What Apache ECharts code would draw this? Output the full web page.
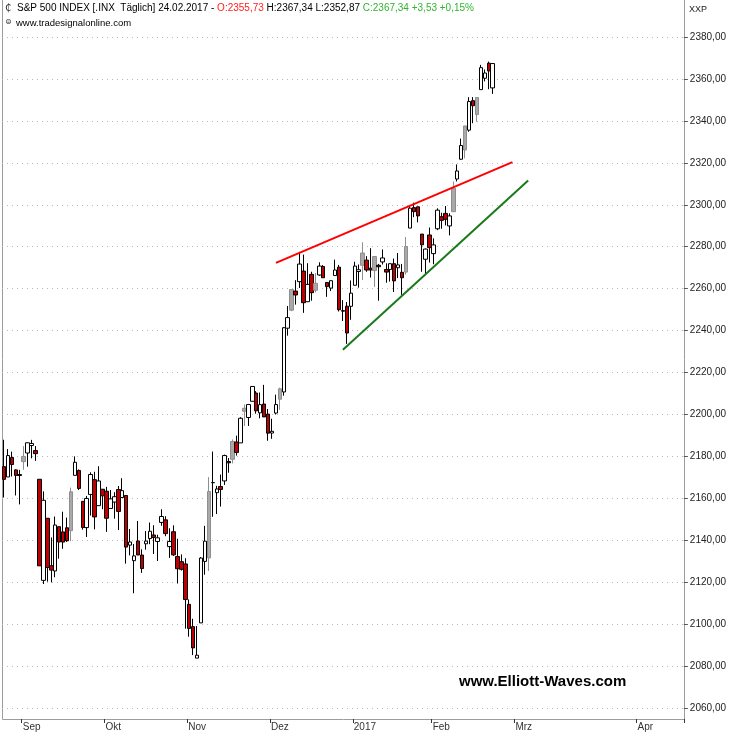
<!DOCTYPE html>
<html><head><meta charset="utf-8">
<script src="https://cdn.jsdelivr.net/npm/echarts@6/dist/echarts.min.js"></script>
<style>html,body{margin:0;padding:0;background:#fff}#c{width:729px;height:735px}</style>
</head><body><div id="c"></div>
<script>
// ---- data ----
const dates = ['2016-08-26','2016-08-29','2016-08-30','2016-08-31','2016-09-01','2016-09-02','2016-09-06','2016-09-07','2016-09-08','2016-09-09',
'2016-09-12','2016-09-13','2016-09-14','2016-09-15','2016-09-16','2016-09-19','2016-09-20','2016-09-21','2016-09-22','2016-09-23',
'2016-09-26','2016-09-27','2016-09-28','2016-09-29','2016-09-30','2016-10-03','2016-10-04','2016-10-05','2016-10-06','2016-10-07',
'2016-10-10','2016-10-11','2016-10-12','2016-10-13','2016-10-14','2016-10-17','2016-10-18','2016-10-19','2016-10-20','2016-10-21',
'2016-10-24','2016-10-25','2016-10-26','2016-10-27','2016-10-28','2016-10-31','2016-11-01','2016-11-02','2016-11-03','2016-11-04',
'2016-11-07','2016-11-08','2016-11-09','2016-11-10','2016-11-11','2016-11-14','2016-11-15','2016-11-16','2016-11-17','2016-11-18',
'2016-11-21','2016-11-22','2016-11-23','2016-11-25','2016-11-28','2016-11-29','2016-11-30','2016-12-01','2016-12-02','2016-12-05',
'2016-12-06','2016-12-07','2016-12-08','2016-12-09','2016-12-12','2016-12-13','2016-12-14','2016-12-15','2016-12-16','2016-12-19',
'2016-12-20','2016-12-21','2016-12-22','2016-12-23','2016-12-27','2016-12-28','2016-12-29','2016-12-30','2017-01-03','2017-01-04',
'2017-01-05','2017-01-06','2017-01-09','2017-01-10','2017-01-11','2017-01-12','2017-01-13','2017-01-17','2017-01-18','2017-01-19',
'2017-01-20','2017-01-23','2017-01-24','2017-01-25','2017-01-26','2017-01-27','2017-01-30','2017-01-31','2017-02-01','2017-02-02',
'2017-02-03','2017-02-06','2017-02-07','2017-02-08','2017-02-09','2017-02-10','2017-02-13','2017-02-14','2017-02-15','2017-02-16',
'2017-02-17','2017-02-21','2017-02-22','2017-02-23','2017-02-24'];

const opens = [2175.10,2170.19,2179.45,2173.56,2171.33,2177.49,2181.61,2185.17,2182.76,2169.08,
2120.86,2150.47,2127.86,2125.36,2146.48,2143.99,2145.94,2144.58,2170.94,2173.29,
2158.54,2146.04,2161.85,2168.90,2156.51,2164.33,2163.37,2155.15,2158.22,2164.19,
2160.39,2161.35,2137.67,2130.26,2139.68,2132.95,2138.31,2140.81,2142.51,2139.43,
2148.50,2149.72,2136.97,2144.06,2132.23,2129.78,2128.68,2109.43,2098.80,2083.79,
2100.59,2129.92,2131.56,2167.49,2162.71,2165.64,2168.29,2177.53,2178.61,2186.85,
2186.43,2201.56,2198.55,2206.27,2210.21,2200.76,2204.97,2200.17,2191.12,2200.65,
2207.26,2210.72,2241.13,2249.73,2258.83,2263.32,2268.35,2253.77,2266.81,2259.24,
2266.50,2270.54,2262.93,2260.25,2266.23,2270.23,2249.50,2251.61,2251.57,2261.60,
2268.18,2271.14,2273.59,2269.72,2268.60,2271.14,2272.74,2269.14,2269.14,2271.90,
2269.96,2267.78,2267.88,2288.88,2298.63,2299.02,2286.01,2274.02,2285.59,2276.69,
2288.54,2294.28,2295.87,2289.89,2296.70,2312.27,2321.72,2326.12,2335.58,2349.64,
2343.01,2354.91,2360.31,2367.50,2355.73];

const highs = [2187.94,2183.48,2182.27,2173.79,2173.56,2184.87,2186.57,2187.87,2184.94,2169.08,
2163.30,2150.47,2141.33,2151.31,2146.48,2153.61,2150.80,2165.11,2179.99,2173.75,
2158.54,2161.13,2172.40,2172.67,2175.30,2164.41,2165.46,2163.95,2162.93,2165.86,
2169.60,2161.56,2145.36,2138.19,2149.19,2135.70,2144.38,2148.44,2147.18,2142.63,
2154.79,2151.44,2145.73,2147.13,2140.72,2133.25,2131.45,2111.76,2102.56,2099.07,
2132.00,2146.87,2170.10,2182.30,2165.92,2171.36,2180.84,2179.22,2188.06,2189.89,
2198.70,2204.80,2204.72,2213.35,2211.14,2210.46,2214.10,2202.60,2197.95,2209.42,
2212.78,2241.63,2251.69,2259.80,2264.03,2277.53,2276.20,2272.12,2268.05,2267.47,
2272.56,2271.23,2263.18,2263.79,2273.82,2271.31,2254.51,2253.58,2263.88,2272.82,
2271.50,2282.10,2275.49,2279.27,2275.32,2271.78,2278.68,2272.08,2272.01,2274.33,
2276.96,2271.78,2284.63,2299.55,2300.99,2299.02,2286.01,2279.09,2289.14,2283.97,
2298.31,2296.18,2299.40,2295.91,2311.08,2319.23,2331.58,2337.58,2351.30,2351.31,
2351.16,2366.71,2364.51,2368.26,2367.34];

const lows = [2160.39,2170.19,2170.41,2161.35,2157.09,2173.59,2175.10,2179.07,2177.85,2127.81,
2119.12,2120.27,2119.90,2122.36,2131.20,2135.91,2139.17,2139.57,2170.94,2163.97,
2145.04,2141.55,2151.79,2145.20,2156.51,2154.77,2144.01,2155.15,2150.28,2144.85,
2160.39,2128.84,2132.77,2114.72,2132.98,2124.43,2135.49,2138.15,2133.44,2130.09,
2146.91,2141.93,2131.59,2132.52,2119.36,2125.53,2097.85,2094.00,2085.23,2083.79,
2100.59,2123.56,2125.35,2151.17,2152.49,2156.08,2166.38,2172.20,2176.65,2180.38,
2186.43,2194.51,2194.51,2206.27,2200.36,2198.15,2198.81,2187.44,2188.37,2199.97,
2202.21,2208.93,2237.57,2249.23,2252.37,2260.32,2248.44,2253.77,2254.24,2258.21,
2266.14,2265.15,2256.08,2258.84,2266.15,2249.11,2244.56,2233.62,2245.13,2261.60,
2260.45,2264.06,2268.04,2265.27,2260.83,2254.25,2271.51,2262.81,2263.35,2258.41,
2265.01,2257.02,2266.68,2288.88,2294.08,2291.62,2268.04,2267.21,2272.44,2271.65,
2287.88,2288.57,2290.16,2285.38,2296.61,2311.10,2321.42,2322.17,2334.81,2338.87,
2339.58,2354.91,2358.84,2355.09,2352.87];

const closes = [2169.04,2180.38,2176.12,2170.95,2170.86,2179.98,2186.48,2186.16,2181.30,2127.81,
2159.04,2127.02,2125.77,2147.26,2139.16,2139.12,2139.76,2163.12,2177.18,2164.69,
2146.10,2159.93,2171.37,2151.13,2168.27,2161.20,2150.49,2159.73,2160.77,2153.74,
2163.66,2136.73,2139.18,2132.55,2132.98,2126.50,2139.60,2144.29,2141.34,2141.16,
2151.33,2143.16,2139.43,2133.04,2126.41,2126.15,2111.72,2097.94,2088.66,2085.18,
2131.52,2139.56,2163.26,2167.48,2164.45,2164.20,2180.39,2176.94,2187.12,2181.90,
2198.18,2202.94,2204.72,2213.35,2201.72,2204.66,2198.81,2191.08,2191.95,2204.71,
2212.23,2241.35,2246.19,2259.53,2256.96,2271.72,2253.28,2262.03,2258.07,2262.53,
2270.76,2265.18,2260.96,2263.79,2268.88,2249.92,2249.26,2238.83,2257.83,2270.75,
2269.00,2276.98,2268.90,2268.90,2275.32,2270.44,2274.64,2267.89,2271.89,2263.69,
2271.31,2265.20,2280.07,2298.37,2296.68,2294.69,2280.90,2278.87,2279.55,2280.85,
2297.42,2292.56,2293.08,2294.67,2307.87,2316.10,2328.25,2337.58,2349.25,2347.22,
2351.16,2365.38,2362.82,2363.81,2367.34];

// candles the chart draws in grey
const grayDays = ['2016-09-02','2016-09-21','2016-11-09','2016-11-17','2016-11-22','2016-12-06','2016-12-09',
'2016-12-19','2017-01-06','2017-01-11','2017-01-24','2017-02-09','2017-02-14','2017-02-17'];

// month labels on the time axis (first day of each month)
const monthLabels = [['2016-09-01','Sep'],['2016-10-03','Okt'],['2016-11-01','Nov'],['2016-12-01','Dez'],
['2017-01-03','2017'],['2017-02-01','Feb'],['2017-03-01','Mrz'],['2017-04-01','Apr']];

// price axis
const yMin = 2060, yMax = 2380, yStep = 20;

// trend lines [date, price]
const redLine = [['2016-12-05',2272.3],['2017-03-01',2320.3]];
const greenLine = [['2016-12-29',2230.9],['2017-03-05',2311.6]];

// ---- build ----
const future = [];
{ let d = new Date(Date.UTC(2017,1,25));
  while (d <= new Date(Date.UTC(2017,3,13))) { future.push(d.toISOString().slice(0,10)); d.setUTCDate(d.getUTCDate()+1); } }
const categories = dates.concat(future);
const monthMap = {}; monthLabels.forEach(m => monthMap[m[0]] = m[1]);
const monthIdx = new Set(monthLabels.map(m => categories.indexOf(m[0])));

const graySet = new Set(grayDays);
const candleData = dates.map((d,i) => {
  const item = {value:[opens[i], closes[i], lows[i], highs[i]]};
  if (graySet.has(d)) item.itemStyle = {color:'#a9a9a9', color0:'#a9a9a9', borderColor:'#8e8e8e', borderColor0:'#8e8e8e', borderColorDoji:'#8e8e8e'};
  return item;
});

const n = dates.length - 1;
const lastC = closes[n], prevC = closes[n-1];
const fmt = v => v.toFixed(2).replace('.',',');
const chg = lastC - prevC, pct = chg / prevC * 100;
const sgn = v => (v >= 0 ? '+' : '-') + fmt(Math.abs(v));
const d0 = dates[n].split('-');
const hdrDate = d0[2] + '.' + d0[1] + '.' + d0[0];

const FONT = '"Liberation Sans", Arial, sans-serif';
const chart = echarts.init(document.getElementById('c'), null, {renderer:'canvas'});
chart.setOption({
  animation: false,
  backgroundColor: '#ffffff',
  grid: {left: 2, right: 45, top: 37, bottom: 27, containLabel: false},
  xAxis: {
    type: 'category', data: categories, boundaryGap: true, offset: 11,
    axisLine: {show: false},
    axisTick: {show: true, length: 4, interval: (idx) => monthIdx.has(idx - 1), lineStyle: {color: '#333', width: 1}},
    axisLabel: {interval: (idx) => monthIdx.has(idx), formatter: v => monthMap[v] || '', align: 'left', padding: [0,0,0,3],
      margin: 3, fontSize: 10, color: '#333', fontFamily: FONT},
    splitLine: {show: false}
  },
  yAxis: {
    type: 'value', position: 'right', min: yMin, max: yMax, interval: yStep, scale: true,
    axisLine: {show: false},
    axisTick: {show: true, length: 4, lineStyle: {color: '#555'}},
    axisLabel: {margin: 6, fontSize: 10, color: '#222', fontFamily: FONT, formatter: v => fmt(v)},
    splitLine: {show: true, lineStyle: {color: '#b8b8b8', type: [1, 4], width: 1}}
  },
  series: [
    {type: 'candlestick', data: candleData, barWidth: 4,
     itemStyle: {color: '#ffffff', color0: '#c00000', borderColor: '#000000', borderColor0: '#000000', borderColorDoji: '#000000', borderWidth: 1}},
    {type: 'line', data: redLine, symbol: 'none', lineStyle: {color: '#ff0000', width: 2}, z: 5},
    {type: 'line', data: greenLine, symbol: 'none', lineStyle: {color: '#1a7a1a', width: 2}, z: 5}
  ],
  graphic: [
    {type: 'polyline', shape: {points: [[2.5,0],[2.5,719.5],[684.5,719.5],[684.5,0]]}, style: {stroke: '#9c9c9c', fill: null, lineWidth: 1}, silent: true},
    {type: 'text', left: 5, top: 3, style: {text: '₵', font: '10px "DejaVu Sans"', fill: '#333'}},
    {type: 'text', left: 17, top: 3, style: {
      text: '{b|S&P 500 INDEX [.INX  Täglich] ' + hdrDate + ' - }{r|O:' + fmt(opens[n]) + '}{b| H:' + fmt(highs[n]) + ' L:' + fmt(lows[n]) + ' }{g|C:' + fmt(lastC) + ' ' + sgn(chg) + ' ' + sgn(pct) + '%}',
      rich: {b: {fontSize: 10, fontFamily: FONT, fill: '#000'}, r: {fontSize: 10, fontFamily: FONT, fill: '#ff2020'}, g: {fontSize: 10, fontFamily: FONT, fill: '#2fb52f'}}
    }},
    {type: 'text', left: 5, top: 18, style: {text: '⊜', font: '8px "DejaVu Sans"', fill: '#333'}},
    {type: 'text', left: 16, top: 18, style: {text: 'www.tradesignalonline.com', font: '9.5px ' + FONT, fill: '#000'}},
    {type: 'text', left: 689, top: 5, style: {text: 'XXP', font: '9px ' + FONT, fill: '#222'}},
    {type: 'text', left: 459, top: 674, style: {text: 'www.Elliott-Waves.com', font: 'bold 15px ' + FONT, fill: '#000'}}
  ]
});
</script></body></html>
